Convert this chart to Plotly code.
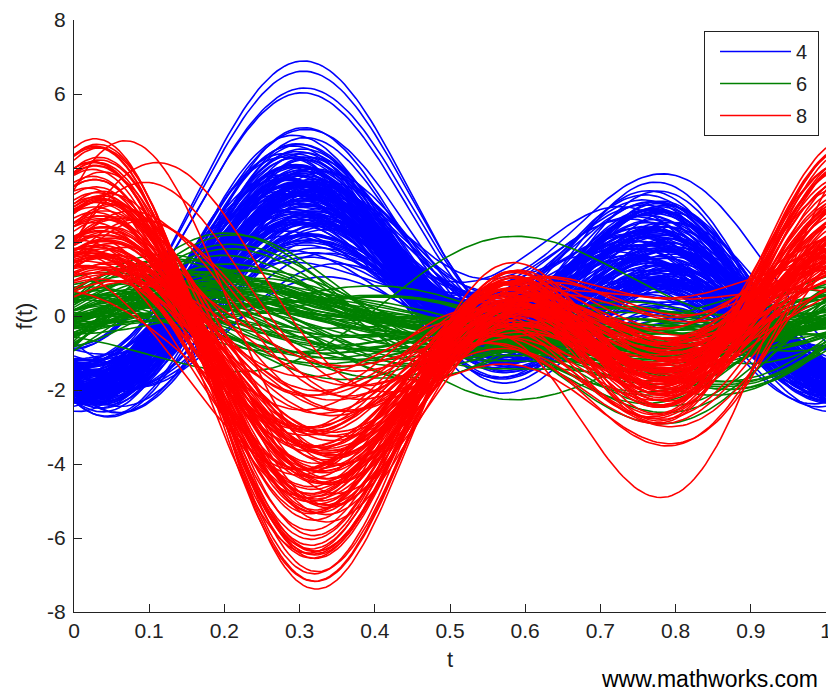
import numpy as np
import plotly.graph_objects as go

# Andrews-plot observations (standardized z-scores) per cylinder group
# variables: MPG, Acceleration, Displacement, Weight, Horsepower
GROUPS = ["4", "6", "8"]

Y_TICKS = [-8, -6, -4, -2, 0, 2, 4, 6, 8]
Y_TICK_LABELS = ["-8", "-6", "-4", "-2", "0", "2", "4", "6", "8"]
X_TICKS = [0, 0.1, 0.2, 0.3, 0.4, 0.5, 0.6, 0.7, 0.8, 0.9, 1]
X_TICK_LABELS = ["0", "0.1", "0.2", "0.3", "0.4", "0.5", "0.6", "0.7", "0.8", "0.9", "1"]

CYL4_MPG = [0.85, 1.20, 0.40, 0.95, 1.55, 0.70, 0.10, 1.05, 0.60, 1.35,
            0.90, 0.25, 1.70, 0.80, 0.45, 1.10, 0.65, 1.95, 0.30, 0.75,
            1.25, 0.55, 0.00, 1.40, 0.85, 1.00, 0.50, 1.60, 0.20, 0.95,
            1.15, 0.70, 1.80, 0.35, 1.05, 0.60, 1.30, -0.10, 0.90, 1.45,
            0.80, 0.15, 1.20, 0.55, 2.10, 0.75, 1.00, 0.40, 1.50, 0.65,
            0.95, 1.25, 0.30, 0.85, 1.65, 0.50, 1.10, 0.05, 0.90, 1.35,
            0.70, 1.05, 0.45, 1.85, 0.60, 1.15, 0.25, 0.95, 1.40, 0.80,
            1.00, 0.35, 1.55, 0.75, 0.20, 1.20, 0.90, 0.55, 1.30, 0.65,
            2.30, 2.40, 2.60, 2.60, 1.90, 2.40, 0.50, 1.10, 0.85, 0.15,
            0.75, 1.10, 0.35, 1.45, 0.90, 0.55, 1.25, 0.20, 1.60, 0.85,
            1.05, 0.45, 1.35, 0.65, 1.80, 0.30, 0.95, 1.20, 0.50, 1.50,
            0.70, 1.15, 0.40, 1.30, 0.80, 1.70, 0.25, 1.00, 0.60, 1.40,
            0.90, 0.15, 1.25, 0.75, 1.55, 0.35, 1.10, 0.85, 1.95, 0.50,
            1.20, 0.65, 1.45, 0.30, 1.00, 0.80, 1.35, 0.55, 1.65, 0.95,
            0.40, 1.15, 0.70, 1.50, 0.20, 1.05, 0.60, 1.30, 0.85, 1.75]
CYL4_ACC = [0.30, 0.60, -0.40, 0.85, 0.10, 1.20, -0.60, 0.45, 0.90, -0.20,
            0.55, 1.10, 0.00, -0.30, 0.70, 0.35, 1.40, -0.10, 0.20, 0.80,
            -0.50, 0.65, 1.00, 0.25, -0.15, 1.30, 0.40, 0.05, 0.95, 0.50,
            0.15, -0.35, 0.75, 1.50, 0.30, -0.70, 0.60, 0.85, 0.10, 1.05,
            0.45, -0.25, 0.90, 0.20, 0.35, 1.25, -0.45, 0.70, 0.00, 0.55,
            1.15, 0.25, -0.55, 0.80, 0.40, 0.95, -0.05, 0.50, 1.35, 0.15,
            -0.30, 0.65, 1.05, 0.10, 0.45, -0.60, 0.75, 0.30, 0.90, 1.60,
            0.20, 0.85, -0.20, 0.60, 1.10, 0.35, -0.40, 0.95, 0.05, 0.70,
            2.35, 2.40, 2.60, 2.80, 1.60, -0.60, 0.40, -0.10, 1.00, 0.55,
            1.20, 0.40, 1.60, 0.70, -0.20, 1.00, 0.55, 1.35, 0.15, 0.90,
            -0.40, 1.45, 0.30, 0.80, 1.10, 0.60, 1.70, -0.10, 1.25, 0.45,
            0.95, -0.30, 1.50, 0.20, 1.15, 0.65, 1.05, 0.35, 1.80, -0.05,
            0.75, 1.40, 0.10, 1.30, 0.50, 0.85, 1.55, -0.25, 0.70, 1.10,
            0.25, 1.65, 0.60, 1.00, -0.15, 1.45, 0.40, 0.90, 1.20, 0.05,
            1.35, 0.55, 1.75, 0.30, 0.95, 1.25, -0.35, 0.80, 1.50, 0.65]
CYL4_DISP = [-0.85, -1.00, -0.70, -0.95, -1.10, -0.80, -0.60, -0.90, -1.05, -0.75,
             -0.95, -0.65, -1.15, -0.85, -0.70, -1.00, -0.80, -1.20, -0.55, -0.90,
             -1.05, -0.75, -0.50, -1.10, -0.85, -0.95, -0.70, -1.15, -0.60, -0.90,
             -1.00, -0.80, -1.20, -0.65, -0.95, -0.75, -1.05, -0.45, -0.90, -1.10,
             -0.85, -0.55, -1.00, -0.75, -1.20, -0.90, -0.95, -0.70, -1.10, -0.80,
             -0.95, -1.05, -0.60, -0.85, -1.15, -0.75, -1.00, -0.50, -0.90, -1.05,
             -0.80, -0.95, -0.70, -1.20, -0.75, -1.00, -0.60, -0.90, -1.10, -0.85,
             -0.95, -0.65, -1.10, -0.85, -0.55, -1.00, -0.90, -0.75, -1.05, -0.80,
             -1.00, -1.05, -1.10, -1.15, -1.00, -1.00, -0.70, -0.95, -0.85, -0.55,
             -0.80, -0.95, -0.70, -1.10, -0.85, -0.75, -1.00, -0.60, -1.15, -0.90,
             -1.00, -0.70, -1.05, -0.80, -1.20, -0.65, -0.90, -1.05, -0.75, -1.10,
             -0.85, -1.00, -0.65, -1.05, -0.90, -1.15, -0.60, -0.95, -0.80, -1.10,
             -0.95, -0.55, -1.05, -0.85, -1.15, -0.70, -1.00, -0.90, -1.20, -0.75,
             -1.00, -0.80, -1.10, -0.65, -0.95, -0.85, -1.05, -0.75, -1.15, -0.90,
             -0.70, -1.00, -0.80, -1.10, -0.60, -0.95, -0.85, -1.05, -0.90, -1.15]
CYL4_WT = [-0.75, -0.55, -1.05, -0.65, -1.45, -0.30, -0.85, -1.20, -0.60, -0.15,
           -1.25, -0.80, -0.95, -0.50, -1.40, -0.35, -0.90, -1.05, -0.70, -1.40,
           -0.45, -1.00, -0.60, -1.15, 0.00, -0.85, -1.25, -0.75, -0.25, -1.10,
           -0.55, -1.50, -0.80, -0.95, -0.45, -1.30, -0.65, -0.90, -1.15, -0.35,
           -0.85, -1.35, -0.60, -1.05, -0.10, -0.95, -1.20, -0.70, -1.00, -0.50,
           -1.45, -0.65, -1.10, -0.30, -0.90, -1.25, -0.80, -0.95, -0.40, -1.30,
           -0.75, -0.20, -1.15, -0.85, -0.55, -1.20, -0.70, -0.80, -1.10, -0.45,
           -0.95, -1.30, -0.70, -0.20, -1.00, -0.85, -1.15, -0.90, -0.40, -1.35,
           -1.10, -1.15, -1.20, -1.25, -1.10, -1.20, -0.50, -1.05, -0.80, -0.25,
           -0.60, -1.20, -0.90, -0.40, -1.30, -0.75, -1.05, -0.50, -1.40, -0.85,
           -0.95, -0.30, -1.15, -0.70, -1.25, -0.55, -1.00, -0.80, -0.45, -1.35,
           -0.65, -1.10, -0.85, -0.35, -1.20, -0.90, -0.60, -1.45, -0.75, -1.00,
           -0.50, -1.15, -0.80, -1.30, -0.95, -0.40, -1.05, -0.70, -1.25, -0.85,
           -1.10, -0.55, -0.90, -1.35, -0.65, -1.00, -0.45, -1.20, -0.80, -1.05,
           -0.70, -1.30, -0.95, -0.60, -1.15, -0.85, -0.50, -1.40, -0.75, -1.10]
CYL4_HP = [-1.10, -2.00, -1.00, -1.70, -1.25, -1.65, -0.95, -1.15, -1.95, -1.45,
           -1.55, -0.70, -2.15, -1.05, -1.65, -1.40, -1.50, -1.55, -1.15, -1.35,
           -1.30, -1.75, -0.70, -2.05, -0.90, -1.60, -0.85, -2.05, -0.95, -1.85,
           -1.35, -1.65, -1.40, -1.15, -1.15, -1.65, -1.60, -1.00, -1.05, -2.05,
           -1.20, -1.40, -1.10, -1.40, -1.75, -1.90, -1.20, -1.40, -1.65, -1.65,
           -1.00, -1.75, -0.80, -1.85, -1.45, -1.45, -1.50, -1.15, -1.10, -2.10,
           -1.10, -1.80, -0.70, -2.05, -0.95, -2.10, -0.85, -1.75, -1.35, -1.45,
           -1.25, -1.55, -1.70, -1.60, -0.50, -2.00, -1.20, -1.30, -1.35, -1.75,
           -1.50, -1.45, -1.55, -1.60, -1.50, -1.40, -0.90, -1.95, -1.30, -1.00,
           -1.70, -1.45, -1.90, -1.30, -2.10, -1.55, -1.80, -1.20, -2.25, -1.60,
           -1.40, -1.95, -1.65, -1.15, -2.05, -1.50, -1.85, -1.35, -1.75, -2.20,
           -1.25, -1.60, -1.95, -1.45, -1.70, -2.15, -1.10, -1.80, -1.55, -2.00,
           -1.35, -1.90, -1.50, -1.75, -2.25, -1.20, -1.65, -1.85, -2.05, -1.40,
           -1.60, -2.10, -1.30, -1.80, -1.55, -1.95, -1.25, -1.70, -2.15, -1.45,
           -1.85, -1.50, -2.00, -1.35, -1.65, -1.90, -1.15, -1.75, -1.60, -2.20]

CYL6_MPG = [-0.40, -0.55, -0.25, -0.45, -0.35, -0.60, -0.20, -0.50, -0.30, -0.45,
            -0.65, -0.35, -0.15, -0.50, -0.40, -0.55, -0.25, -0.45, -0.70, -0.30,
            -0.40, -0.50, -0.20, -0.60, -0.35, -0.45, -0.25, -0.55, -0.40, -0.30,
            -0.50, -0.35, -0.60, -0.10, -0.45, -0.40, -0.55, -0.30, -0.50, -0.35,
            0.20, -0.60, -0.60, -0.20, -0.45,
            -0.35, -0.50, -0.20, -0.60, -0.45, -0.30, -0.55, -0.25, -0.40, -0.65,
            -0.15, -0.50, -0.35, -0.45, -0.60, -0.20, -0.40, -0.55, -0.30, -0.45,
            -0.25, -0.50, -0.70, -0.35, -0.40, -0.60, -0.30, -0.45, -0.50, -0.20]
CYL6_ACC = [0.50, 0.20, 0.90, -0.10, 0.70, 1.20, 0.30, 0.00, 1.00, 0.60,
            -0.30, 0.80, 0.40, 1.40, 0.10, 0.55, 0.95, -0.20, 0.65, 0.35,
            1.10, 0.25, 0.75, -0.40, 0.45, 1.30, 0.15, 0.85, 0.50, 0.05,
            0.70, 1.50, 0.30, 0.60, -0.15, 0.90, 0.40, 1.05, 0.20, 0.80,
            -1.20, 1.20, 1.80, 0.50, 0.65,
            1.60, -0.20, 0.80, 1.90, 0.30, -0.50, 1.20, 0.60, 1.75, 0.00,
            0.95, 1.40, -0.35, 0.70, 1.60, 0.25, 1.05, -0.15, 0.50, 1.30,
            0.85, 1.70, 0.10, 0.55, 1.15, -0.25, 0.75, 1.50, 0.40, 0.90]
CYL6_DISP = [0.25, 0.45, -0.05, 0.55, 0.15, 0.35, -0.15, 0.65, 0.05, 0.25,
             0.75, 0.15, -0.25, 0.45, 0.25, 0.55, -0.05, 0.35, 0.85, 0.05,
             0.15, 0.45, -0.15, 0.65, 0.25, 0.35, -0.05, 0.55, 0.15, 0.05,
             0.45, 0.25, 0.75, -0.35, 0.35, 0.15, 0.55, 0.05, 0.45, 0.25,
             -1.10, 1.00, 0.30, 0.10, 0.30,
             0.10, 0.50, -0.10, 0.30, 0.65, 0.20, -0.20, 0.45, 0.05, 0.60,
             0.25, -0.05, 0.55, 0.35, 0.15, 0.70, 0.00, 0.40, 0.30, -0.15,
             0.50, 0.20, 0.80, 0.10, 0.35, 0.60, -0.10, 0.25, 0.45, 0.05]
CYL6_WT = [0.20, 0.35, 0.00, 0.40, 0.15, 0.30, -0.10, 0.45, 0.10, 0.25,
           0.50, 0.15, -0.15, 0.35, 0.20, 0.40, 0.05, 0.30, 0.55, 0.10,
           0.25, 0.30, -0.05, 0.45, 0.20, 0.35, 0.00, 0.40, 0.15, 0.10,
           0.30, 0.20, 0.50, -0.20, 0.25, 0.15, 0.40, 0.05, 0.35, 0.20,
           0.30, -0.20, 0.60, -0.10, 0.30,
           0.45, 0.10, 0.30, 0.55, -0.05, 0.25, 0.40, 0.00, 0.50, 0.20,
           0.35, 0.60, -0.10, 0.15, 0.45, 0.30, 0.05, 0.40, 0.25, 0.50,
           0.10, 0.55, 0.35, -0.05, 0.30, 0.20, 0.45, 0.60, 0.15, 0.25]
CYL6_HP = [0.00, -0.50, 0.40, -0.30, -0.10, 0.50, -0.20, -0.60, 0.10, -0.10,
           0.30, -0.40, 0.20, 0.60, -0.30, 0.00, 0.10, -0.50, 0.40, -0.10,
           0.00, -0.40, 0.30, -0.20, -0.30, 0.20, -0.10, 0.50, -0.70, 0.10,
           -0.20, 0.30, -0.40, 0.20, -0.10, -0.10, 0.20, -0.40, 0.30, -0.20,
           0.40, -0.40, 0.60, -0.30, -0.05,
           -0.45, 0.30, -0.20, -0.55, 0.45, 0.10, -0.35, 0.20, -0.60, 0.40,
           -0.10, -0.40, 0.35, 0.00, -0.50, 0.50, -0.25, 0.15, 0.05, -0.30,
           0.25, 0.45, 0.55, -0.15, 0.10, 0.35, -0.40, 0.50, 0.30, -0.05]

CYL8_MPG = [-1.10, -1.25, -0.95, -1.15, -1.30, -1.00, -0.85, -1.20, -1.05, -1.35,
            -0.90, -1.15, -1.25, -1.00, -0.80, -1.10, -1.30, -0.95, -1.20, -1.05,
            -1.15, -0.90, -1.40, -1.00, -1.10, -0.75, -1.25, -1.05, -0.95, -1.20,
            -1.00, -1.30, -0.85, -1.15, -1.10, -0.95, -1.25, -0.90, -1.05, -1.35,
            -1.10, -0.80, -1.20, -1.00, -1.15, -0.90, -1.30, -1.05, -0.85, -1.25,
            -1.00, -1.15, -0.95, -1.20, -0.70, -0.60, -1.40, -0.80, -0.75, -1.10,
            -1.05, -1.20, -0.90, -1.30, -1.15, -0.95, -1.25, -1.00, -1.35, -1.10,
            -0.85, -1.20, -1.05, -1.30, -0.95, -1.15, -1.40, -1.00, -1.10, -0.80,
            -1.25, -1.05, -1.15, -0.90, -1.35, -1.00, -1.20, -1.10, -0.95, -1.30,
            -1.05, -1.25, -0.85, -1.15, -1.00, -1.35, -1.10, -0.90, -1.20, -1.05]
CYL8_ACC = [-1.20, -1.70, -0.60, 0.00, -0.95, -1.40, -0.30, -1.05, -1.90, -1.25,
            -0.10, -1.10, -0.65, -1.00, 0.30, -1.35, -0.75, -0.45, -1.15, -2.10,
            -1.45, 0.10, -1.80, -0.90, -0.35, -1.60, -0.60, -0.85, -0.95, -1.00,
            0.20, -1.20, -2.20, -1.30, -0.25, -1.55, -0.80, 0.50, -1.40, -1.90,
            -1.10, -0.50, -1.25, -0.90, -1.30, -1.80, -1.10, -1.60, -0.70, -0.20,
            -2.00, -0.80, -1.50, -0.40, 1.80, 2.20, 1.50, 1.00, 1.40, -0.75,
            -0.50, -1.60, -0.90, -2.00, -0.30, -1.25, -1.75, -0.70, -1.40, -0.10,
            -1.05, -1.85, -0.60, -1.30, 0.20, -0.95, -1.50, -0.40, -1.15, 0.60,
            -1.70, -0.80, -1.20, -0.25, -2.10, -0.65, -1.35, -0.85, 0.40, -1.55,
            -1.00, -0.45, -1.80, -0.75, -1.10, -1.45, 1.20, -0.55, -1.25, -0.90]
CYL8_DISP = [1.40, 1.90, 1.00, 1.60, 2.10, 1.20, 0.70, 1.50, 1.30, 2.50,
             0.90, 1.70, 2.00, 1.10, 0.60, 1.45, 1.85, 0.95, 1.55, 1.35,
             1.75, 0.80, 2.60, 1.15, 1.50, 0.65, 1.95, 1.25, 1.05, 1.65,
             1.20, 1.80, 0.75, 1.60, 1.40, 1.00, 2.05, 0.85, 1.30, 2.70,
             1.45, 0.70, 1.70, 1.10, 1.90, 0.90, 2.00, 1.35, 0.80, 1.75,
             1.25, 1.55, 1.00, 1.85, 1.50, 1.80, 2.20, 1.40, 1.20, 1.35,
             1.60, 2.20, 1.10, 1.85, 1.35, 0.90, 2.40, 1.50, 1.95, 1.05,
             0.80, 2.10, 1.40, 2.30, 1.20, 1.70, 2.50, 1.00, 1.55, 0.70,
             2.00, 1.30, 1.80, 0.95, 2.35, 1.15, 1.90, 1.45, 0.85, 2.15,
             1.25, 1.75, 2.05, 1.40, 1.60, 2.25, 1.30, 1.10, 1.85, 1.50]
CYL8_WT = [1.30, 1.80, 0.90, 1.55, 2.00, 1.10, 0.60, 1.40, 1.20, 2.10,
           0.85, 1.65, 1.90, 1.00, 0.55, 1.35, 1.75, 0.90, 1.45, 1.25,
           1.70, 0.75, 2.20, 1.05, 1.40, 0.50, 1.85, 1.15, 0.95, 1.60,
           1.10, 1.70, 0.65, 1.50, 1.30, 0.95, 1.95, 0.80, 1.20, 2.30,
           1.35, 0.60, 1.60, 1.00, 1.80, 0.85, 1.90, 1.25, 0.70, 1.65,
           1.15, 1.45, 0.90, 1.75, 1.60, 1.70, 2.20, 1.30, 1.10, 1.25,
           1.50, 2.00, 1.05, 1.70, 1.25, 0.85, 2.20, 1.35, 1.80, 1.00,
           0.75, 1.95, 1.30, 2.10, 1.15, 1.60, 2.30, 0.95, 1.45, 0.70,
           1.85, 1.20, 1.65, 0.90, 2.15, 1.05, 1.75, 1.35, 0.80, 2.00,
           1.15, 1.60, 1.90, 1.30, 1.50, 2.05, 1.40, 1.00, 1.70, 1.40]
CYL8_HP = [1.80, 1.40, 1.20, 1.30, 2.70, 0.60, 0.80, 2.00, 0.90, 2.80,
           0.70, 2.40, 1.30, 1.10, 1.05, 1.10, 2.10, 0.40, 2.10, 1.20,
           2.10, 0.35, 2.75, 0.50, 2.15, 0.55, 2.45, 0.95, 1.25, 1.15,
           1.80, 1.55, 1.05, 1.00, 1.45, 1.40, 1.65, 1.55, 1.10, 2.80,
           0.75, 1.15, 1.65, 1.40, 1.45, 1.45, 1.70, 1.50, 1.40, 1.15,
           1.50, 1.40, 1.50, 1.50, 1.00, 0.60, 2.20, 1.10, 0.90, 1.55,
           2.10, 2.50, 0.70, 2.45, 1.05, 1.10, 2.80, 1.00, 2.50, 0.85,
           1.15, 2.55, 1.25, 2.60, 0.75, 1.95, 2.70, 1.40, 1.20, 0.60,
           2.50, 1.05, 2.15, 1.05, 2.60, 0.75, 2.45, 1.40, 1.15, 2.60,
           0.95, 1.90, 2.55, 1.20, 2.00, 2.60, 0.80, 1.30, 1.95, 1.40]

COLORS = {"4": "#0000FF", "6": "#008000", "8": "#FF0000"}
DATA = {
    "4": (CYL4_MPG, CYL4_ACC, CYL4_DISP, CYL4_WT, CYL4_HP),
    "6": (CYL6_MPG, CYL6_ACC, CYL6_DISP, CYL6_WT, CYL6_HP),
    "8": (CYL8_MPG, CYL8_ACC, CYL8_DISP, CYL8_WT, CYL8_HP),
}

t = np.linspace(0, 1, 201)
basis = np.vstack([
    np.full_like(t, 1 / np.sqrt(2)),
    np.sin(2 * np.pi * t),
    np.cos(2 * np.pi * t),
    np.sin(4 * np.pi * t),
    np.cos(4 * np.pi * t),
])

fig = go.Figure()
for g in GROUPS:
    coeffs = np.array(DATA[g]).T  # rows = observations
    curves = coeffs @ basis
    xs, ys = [], []
    for c in curves:
        xs.extend(t.tolist() + [None])
        ys.extend(c.tolist() + [None])
    fig.add_trace(go.Scatter(
        x=xs, y=ys, mode="lines", name=g + "\u00a0", legendgroup=g,
        line=dict(color=COLORS[g], width=1.6),
        hoverinfo="skip",
    ))

FONT = "Liberation Sans, Arial, sans-serif"
AX = "#222222"

# page body adds an 8px margin: figure is sized to fit the 836x693 window
fig.update_layout(
    width=828, height=685,
    margin=dict(l=66, r=10, t=12, b=81),
    paper_bgcolor="white", plot_bgcolor="white",
    font=dict(family=FONT, size=21, color=AX),
    legend=dict(
        x=0.8378, y=0.9814, xanchor="left", yanchor="top",
        bordercolor="#222222", borderwidth=1, bgcolor="white",
        font=dict(family=FONT, size=20, color="#222222"),
        traceorder="grouped", tracegroupgap=3, itemwidth=71, indentation=10,
    ),
    xaxis=dict(
        range=[0, 1], tickmode="array", tickvals=X_TICKS, ticktext=X_TICK_LABELS,
        showgrid=False, zeroline=False,
        showline=True, linecolor=AX, linewidth=1, ticks="inside",
        ticklen=8, tickcolor=AX, mirror=False, automargin=False,
        tickfont=dict(family=FONT, size=21, color=AX),
        title=dict(text="t", standoff=10, font=dict(family=FONT, size=22)),
    ),
    yaxis=dict(
        range=[-8, 8], tickmode="array", tickvals=Y_TICKS, ticktext=Y_TICK_LABELS,
        showgrid=False, zeroline=False,
        showline=True, linecolor=AX, linewidth=1, ticks="inside",
        ticklen=8, tickcolor=AX, mirror=False, ticklabelstandoff=3,
        automargin=False,
        tickfont=dict(family=FONT, size=21, color=AX),
        title=dict(text="f(t)", standoff=8, font=dict(family=FONT, size=22)),
    ),
    annotations=[dict(
        text="www.mathworks.com", xref="paper", yref="paper",
        x=0.992, y=-0.1132, xanchor="right", yanchor="middle", showarrow=False,
        font=dict(family="Liberation Sans, Arial, sans-serif", size=23, color="black"),
    )],
)

fig.write_html("out.html")
